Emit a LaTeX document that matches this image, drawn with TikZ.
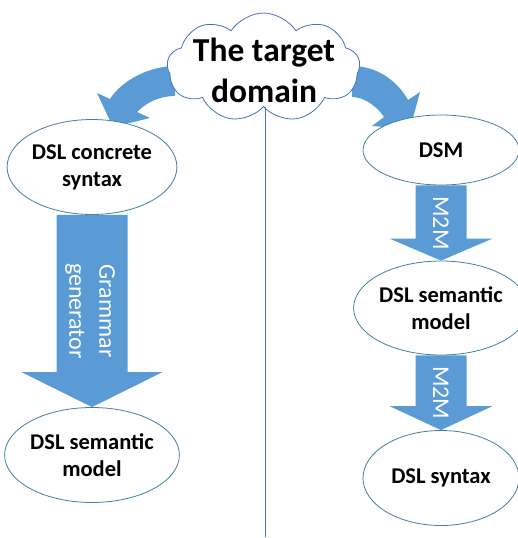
\documentclass[tikz,border=0pt]{standalone}
\usepackage{fontspec}
\setmainfont{Carlito}
\usetikzlibrary{shapes.symbols,shapes.geometric,calc}
\definecolor{blockblue}{HTML}{5B9BD5}
\definecolor{rimteal}{HTML}{41819C}
\definecolor{cloudrim}{HTML}{4472C4}
\pgfdeclarelayer{back}
\pgfsetlayers{back,main}
\tikzset{
  oval/.style={ellipse, draw=rimteal, line width=0.8pt, fill=white, inner sep=0pt,
    align=center, font=\bfseries\fontsize{22.5}{27}\selectfont},
  arrowlabel/.style={text=white, rotate=-90, align=center, inner sep=0pt,
    font=\fontsize{24}{30}\selectfont},
}
% straight block arrow pointing down: top anchor, tip anchor, half shaft, half head, head length
\newcommand{\blockdown}[5]{%
  \fill[blockblue] ($(#1)+(-#3,0)$) -- ($(#1)+(#3,0)$) -- ($(#2)+(#3,-#5)$)
    -- ($(#2)+(#4,-#5)$) -- (#2) -- ($(#2)+(-#4,-#5)$) -- ($(#2)+(-#3,-#5)$) -- cycle;}
\begin{document}
\begin{tikzpicture}[x=1pt,y=-1pt]
\useasboundingbox (0,0) rectangle (518,538);

% the domain cloud
\node[cloud, cloud puffs=9, cloud puff arc=115, aspect=1.77, draw=cloudrim, fill=white,
      line width=0.8pt, minimum width=193pt, minimum height=109pt, inner sep=0pt]
      (dom) at (263.5,67.5) {};
\node[font=\bfseries\fontsize{33.5}{41}\selectfont, align=center, inner sep=0pt]
      (domtxt) at (264,70) {The target\\domain};

% ellipses
\node[oval, minimum width=164pt, minimum height=95pt] (csyn) at (92,167) {DSL concrete\\syntax};
\node[oval, minimum width=164pt, minimum height=95pt] (lsem) at (92,455) {DSL semantic\\model};
\node[oval, minimum width=156pt, minimum height=70pt] (dsm)  at (441,150) {DSM};
\node[oval, minimum width=156pt, minimum height=94pt] (rsem) at (441,308) {DSL semantic\\model};
\node[oval, minimum width=156pt, minimum height=95pt] (rsyn) at (441,478) {DSL syntax};

% divider
\coordinate (lineend) at (265,537);
\draw[cloudrim, line width=0.8pt] (lineend |- dom.south) -- (lineend);

\begin{pgfonlayer}{back}
  % curved arrows leaving the cloud
  \fill[blockblue] (175,66) .. controls (150,66) and (122,80) .. (110,99)
    -- (97,93) -- (113,127) -- (150,118) -- (137,112)
    .. controls (147,102) and (160,96) .. (175,96) -- cycle;
  \fill[blockblue] (352,66) .. controls (378,66) and (398,82) .. (408,100)
    -- (420,92) -- (410,129) -- (372,126) -- (384,117)
    .. controls (376,105) and (363,97) .. (352,97) -- cycle;
  % straight block arrows
  \blockdown{csyn.south}{lsem.north}{35.5}{70.5}{35}
  \blockdown{dsm.south}{rsem.north}{25.5}{51.5}{22}
  \blockdown{rsem.south}{rsyn.north}{25.5}{51.5}{24}
\end{pgfonlayer}

% arrow labels
\node[arrowlabel] (gram) at ($(csyn.south)!0.5!(lsem.north)+(-2,0)$) {Grammar\\generator};
\node[arrowlabel] (mtm1) at ($(dsm.south)!0.5!(rsem.north)$) {M2M};
\node[arrowlabel] (mtm2) at ($(rsem.south)!0.5!(rsyn.north)$) {M2M};
\end{tikzpicture}
\end{document}
